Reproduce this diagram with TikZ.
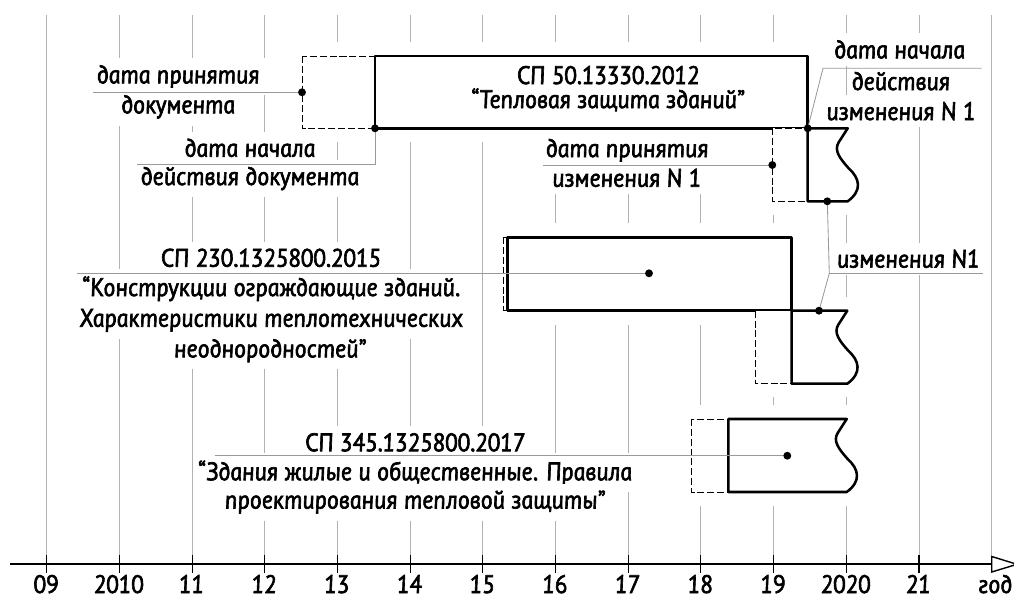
\documentclass[tikz,border=0pt]{standalone}
\usepackage{fontspec}
\newfontfamily\gostfont{PT Sans Italic}[FakeSlant=-0.16, FakeBold=2.5, FakeStretch=0.95]
\usetikzlibrary{calc}

% break line at the open (right) end of a bar
\newcommand{\wavy}[2]{-- ({#1-9},{#2+14}) .. controls ({#1-14},{#2+22}) and ({#1-8},{#2+30}) .. ({#1+1},{#2+40}) .. controls ({#1+12},{#2+50}) and ({#1+15},{#2+62}) .. ({#1},{#2+73})}

\tikzset{
  grid/.style={gray!60, line width=0.6pt},
  tick/.style={black, line width=0.8pt},
  axis/.style={black, line width=1.4pt},
  frame/.style={line width=1.8pt, fill=white, line join=round},
  plan/.style={dash pattern=on 5pt off 2pt, line width=0.7pt, fill=white},
  leader/.style={gray!80, line width=0.6pt},
  mask/.style={fill=white},
  txt/.style={font=\gostfont\fontsize{18}{21}\selectfont, inner sep=0pt, anchor=base},
  lbl/.style={txt, fill=white, inner xsep=4pt, inner ysep=5pt},
}

\begin{document}
\begin{tikzpicture}[x=0.025cm, y=-0.025cm]
    \useasboundingbox (0,0) rectangle (1014,599);

    % year grid
    \foreach \k in {0,...,13}
        \draw[grid] ({46.7+72.69*\k},15) -- ({46.7+72.69*\k},556);

    % time axis
    \draw[axis] (10,564.3) -- (991.7,564.3);
    \foreach \k in {0,...,12}
        \draw[tick] ({46.7+72.69*\k},555) -- ({46.7+72.69*\k},573);
    \draw[line width=1pt, fill=white] (991.7,556.5) -- (1017,564.3) -- (991.7,572) -- cycle;
    \foreach \k/\t in {0/09, 1/2010, 2/11, 3/12, 4/13, 5/14, 6/15, 7/16, 8/17, 9/18, 10/19, 11/2020, 12/21}
        \node[txt] (yr\k) at ({46.7+72.69*\k},593) {\t};
    \node[txt, anchor=base west] (god) at (979,593) {год};

    % white gaps round the bars
    \fill[mask] (300,42) rectangle (810,142);
    \fill[mask] (770,128) rectangle (862,215);
    \fill[mask] (500,223) rectangle (795,325);
    \fill[mask] (752,297) rectangle (862,397);
    \fill[mask] (689,405) rectangle (862,506);

    % labels
    \node[lbl] (a1) at (179,83.3) {дата принятия};
    \node[lbl] (a2) at (179,113.3) {документа};
    \node[lbl] (b1) at (250.8,156.7) {дата начала};
    \node[lbl] (b2) at (250.8,185) {действия документа};
    \node[lbl] (c1) at (900.5,58.3) {дата начала};
    \node[lbl] (c2) at (901.7,90) {действия};
    \node[lbl] (c3) at (901.7,120) {изменения N 1};
    \node[lbl] (d1) at (628,157) {дата принятия};
    \node[lbl] (d2) at (627.5,186.7) {изменения N 1};
    \node[lbl] (e1) at (909,267.6) {изменения N1};
    \node[lbl] (f1) at (271.7,266.7) {СП 230.1325800.2015};
    \node[lbl] (f2) at (272,296) {“Конструкции ограждающие зданий.};
    \node[lbl] (f3) at (272,326.7) {Характеристики теплотехнических};
    \node[lbl] (f4) at (271,357.3) {неоднородностей”};
    \node[lbl] (g1) at (416,451.2) {СП 345.1325800.2017};
    \node[lbl] (g2) at (416,480.2) {“Здания жилые и общественные. Правила};
    \node[lbl] (g3) at (416,508.5) {проектирования тепловой защиты”};

    % СП 50.13330.2012 and its change N 1
    \draw[plan] (302,56) rectangle (375,128.3);
    \draw[frame] (375,56) rectangle (807.7,128.3);
    \node[txt] (sp50) at (609,84) {СП 50.13330.2012};
    \node[txt] (sp50t) at (609,108) {“Тепловая защита зданий”};
    \draw[plan] (772.3,128.3) rectangle (807.7,201.3);
    \draw[frame] (807.7,128.3) -- (847.7,128.3) \wavy{847.7}{128.3} -- (807.7,201.3) -- cycle;

    % СП 230.1325800.2015 and its change N 1
    \draw[plan] (503,237.3) rectangle (507.5,310.7);
    \draw[frame] (507.5,237.3) rectangle (791.7,310.7);
    \draw[plan] (755,310.7) rectangle (791.7,383.7);
    \draw[frame] (791.7,310.7) -- (847.3,310.7) \wavy{847.3}{310.7} -- (791.7,383.7) -- cycle;

    % СП 345.1325800.2017
    \draw[plan] (691.7,419) rectangle (728.3,492);
    \draw[frame] (728.3,419) -- (846.7,419) \wavy{846.7}{419} -- (728.3,492) -- cycle;

    % dates and leaders
    \coordinate (dA) at (302,92.3);    \coordinate (eA) at (93.3,92.3);
    \coordinate (dB) at (375,128.3);   \coordinate (eB) at (136.7,164.3);
    \coordinate (dC) at (807.7,128.3); \coordinate (kC) at (823,68.3);   \coordinate (eC) at (981.7,68.3);
    \coordinate (dD) at (772.3,165);   \coordinate (eD) at (543,165);
    \coordinate (dE1) at (827.3,201.3); \coordinate (kE) at (829.3,273.3); \coordinate (eE) at (983,273.3);
    \coordinate (dE2) at (819,310.7);
    \coordinate (dF) at (649,273.3);   \coordinate (eF) at (76.7,273.3);
    \coordinate (dG) at (787.3,455.7); \coordinate (eG) at (214.5,455.7);

    \draw[leader] (eA) -- (dA);
    \draw[leader] (dB) -- (dB |- eB) -- (eB);
    \draw[leader] (dC) -- (kC) -- (eC);
    \draw[leader] (eD) -- (dD);
    \draw[leader] (dE1) -- (kE) -- (dE2);
    \draw[leader] (kE) -- (eE);
    \draw[leader] (eF) -- (dF);
    \draw[leader] (eG) -- (dG);

    \foreach \p in {dA,dB,dC,dD,dE1,dE2,dF,dG}
        \fill (\p) circle (2.8pt);
\end{tikzpicture}
\end{document}
